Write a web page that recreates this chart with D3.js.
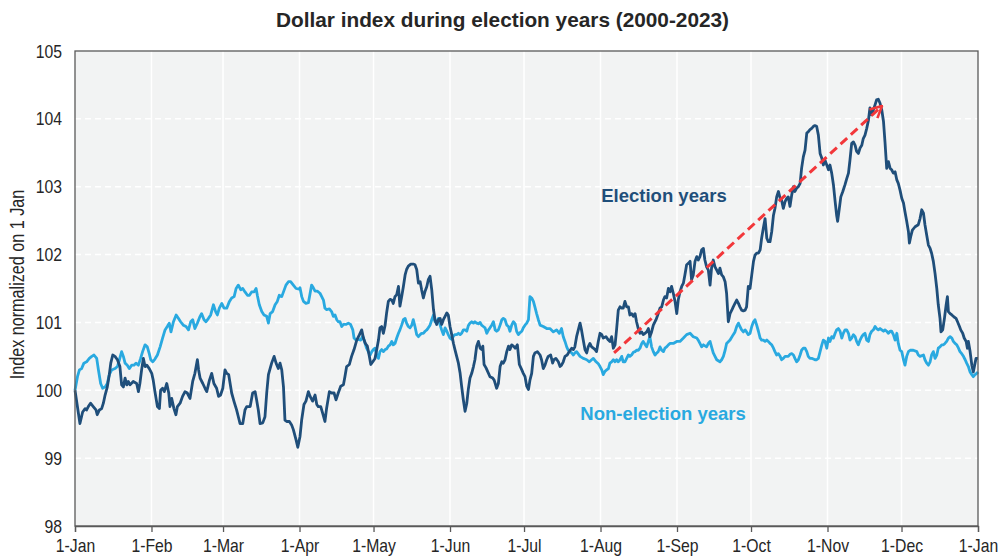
<!DOCTYPE html>
<html>
<head>
<meta charset="utf-8">
<script src="https://cdn.jsdelivr.net/npm/d3@7"></script>
<style>
  html, body { margin: 0; padding: 0; background: #ffffff; }
  svg { display: block; }
  text { font-family: "Liberation Sans", Arial, sans-serif; }
</style>
</head>
<body>
<svg id="chart" width="1002" height="556"></svg>
<script>
// ---- DATA (day of year offset from 1 Jan, index normalized on 1 Jan) ----
const chartTitle = "Dollar index during election years (2000-2023)";
const yAxisTitle = "Index normalized on 1 Jan";
const seriesNames = ["Election years", "Non-election years"];
const yTicks = [98, 99, 100, 101, 102, 103, 104, 105];
const monthLabels = ["1-Jan","1-Feb","1-Mar","1-Apr","1-May","1-Jun","1-Jul","1-Aug","1-Sep","1-Oct","1-Nov","1-Dec","1-Jan"];

const electionYears = [
[0,100],[2.0,99.51],[3.1,99.68],[4.1,99.73],[4.7,99.71],[5.4,99.76],[6.3,99.81],[7.4,99.76],[8.5,99.71],[9.0,99.64],[9.9,99.71],[10.8,99.73],[11.5,99.81],[12.2,99.93],[13.1,100.05],[13.9,100.23],[14.5,100.40],[15.3,100.52],[16.2,100.50],[17.2,100.45],[18.2,100.35],[18.9,100.08],[19.6,100.05],[20.3,100.18],[21.0,100.08],[21.6,100.13],[22.3,100.08],[23.6,100.13],[25.0,100.10],[25.7,99.98],[26.3,100.10],[27.0,100.30],[27.7,100.47],[28.4,100.35],[29.1,100.37],[30.1,100.32],[31.1,100.25],[31.7,100.15],[32.4,99.98],[33.4,99.76],[34.2,99.73],[34.7,100.0],[35.5,100.03],[36.2,99.98],[37.2,100.10],[38.0,99.96],[38.5,99.76],[39.2,99.88],[40.1,99.73],[40.9,99.64],[41.5,99.76],[42.6,99.81],[43.6,99.91],[44.6,99.98],[45.5,99.96],[46.6,99.88],[47.7,100.13],[48.6,100.25],[49.6,100.45],[50.1,100.30],[50.7,100.18],[51.8,100.10],[52.7,100.03],[53.4,99.98],[54.5,100.15],[55.4,100.25],[56.3,100.10],[57.4,100.03],[58.2,99.91],[59.0,99.93],[59.9,100.03],[60.8,100.30],[61.5,100.25],[62.3,100.23],[63.5,99.96],[64.5,99.83],[65.5,99.71],[66.2,99.61],[66.9,99.51],[68.0,99.51],[68.9,99.71],[69.6,99.76],[71.0,99.76],[72.0,99.96],[73.0,99.98],[73.6,99.86],[74.3,99.71],[75.0,99.51],[76.1,99.52],[77.0,99.61],[77.7,99.96],[78.4,100.23],[79.7,100.40],[80.7,100.50],[81.5,100.40],[82.4,100.32],[83.1,100.40],[83.8,100.30],[84.5,100.05],[85.1,99.56],[85.8,99.54],[86.9,99.54],[87.8,99.49],[88.5,99.42],[89.6,99.27],[90.3,99.16],
[91.2,99.32],[91.9,99.57],[92.8,99.79],[93.6,99.84],[94.6,99.98],[95.3,99.91],[96.3,99.84],[97.3,99.93],[98.0,99.79],[98.6,99.76],[99.6,99.76],[100.4,99.66],[101.3,99.54],[102.0,99.74],[103.1,99.98],[104.0,99.96],[105.0,99.96],[105.8,99.86],[106.7,99.96],[107.7,100.06],[108.8,100.08],[109.4,100.20],[110.1,100.35],[111.2,100.38],[112.1,100.50],[113.1,100.60],[114.2,100.74],[115.3,100.82],[116.2,100.89],[116.9,100.77],[117.7,100.69],[118.5,100.65],[119.3,100.50],[119.9,100.38],[120.7,100.42],[121.6,100.47],[122.3,100.60],[123.0,100.74],[123.6,100.92],[124.3,100.94],[125.0,100.84],[125.7,100.96],[126.3,101.14],[127.0,101.31],[127.7,101.34],[128.4,101.33],[129.0,101.28],[129.7,101.38],[130.4,101.41],[131.1,101.53],[131.7,101.24],[132.4,101.38],[133.1,101.53],[133.8,101.70],[134.4,101.78],[135.1,101.83],[136.1,101.86],[137.1,101.86],[137.8,101.85],[138.5,101.78],[139.2,101.58],[139.9,101.60],[140.5,101.48],[141.2,101.36],[141.9,101.46],[142.6,101.53],[143.2,101.63],[143.9,101.68],[144.6,101.48],[145.3,101.19],[145.9,101.04],[146.6,100.97],[147.3,101.04],[148.0,101.06],[148.6,100.97],[149.3,101.04],[150.0,101.09],[150.7,101.14],[151.3,101.11],[152.0,100.94],[152.7,100.82],[153.4,100.69],[154.0,100.60],[154.7,100.50],[155.4,100.40],[156.1,100.25],[156.7,100.06],[157.4,99.86],[158.1,99.69],[158.8,99.81],[159.4,100.01],[160.1,100.18],[160.8,100.25],[161.5,100.35],[162.1,100.45],[162.8,100.65],[163.5,100.72],[164.2,100.62],[164.8,100.60],[165.3,100.65],[165.8,100.38],[166.6,100.33],[167.6,100.25],[168.2,100.20],[169.3,100.18],[169.9,100.15],[170.9,100.03],[171.6,100.10],[172.3,100.35],[173.0,100.42],[173.6,100.40],[174.3,100.45],[175.0,100.57],[175.7,100.65],[176.3,100.60],[177.0,100.67],[177.7,100.65],[178.4,100.62],[179.3,100.67],[180.1,100.38],[181.1,100.30],[181.7,100.25],[182.4,100.20],[183.1,100.06],[183.8,100.01],
[184.4,100.15],[185.1,100.25],[185.8,100.50],[186.4,100.55],[187.4,100.57],[188.5,100.52],[189.1,100.45],[189.8,100.32],[190.5,100.37],[191.2,100.45],[191.8,100.50],[192.8,100.52],[193.6,100.40],[194.1,100.45],[194.9,100.47],[195.9,100.42],[196.6,100.35],[197.2,100.37],[197.9,100.42],[198.6,100.50],[199.5,100.52],[200.3,100.57],[201.3,100.62],[202.0,100.60],[202.6,100.64],[203.3,100.79],[204.0,100.89],[204.7,100.99],[205.3,100.89],[206.0,100.74],[206.7,100.60],[207.4,100.55],[208.0,100.64],[208.7,100.69],[209.4,100.64],[210.1,100.62],[210.8,100.60],[211.4,100.57],[212.1,100.72],[212.8,100.84],[213.5,100.82],[214.1,100.77],[215.2,100.79],[216.2,100.74],[216.8,100.72],[217.5,100.79],[218.2,100.62],[218.9,100.67],[219.5,100.89],[220.2,101.18],[220.9,101.23],[221.6,101.21],[222.2,101.21],[222.9,101.31],[223.6,101.23],[224.3,101.23],[224.9,101.11],[225.6,101.13],[226.3,101.09],[227.0,101.13],[227.6,101.01],[228.3,100.91],[229.0,100.84],[229.7,100.86],[230.3,100.82],[231.0,100.84],[231.7,100.86],[232.4,100.91],[233.0,100.79],[233.7,100.86],[234.4,100.96],[235.5,101.04],[236.4,101.13],[237.1,101.21],[237.8,101.23],[238.5,101.33],[239.1,101.38],[239.8,101.36],[240.5,101.50],[241.2,101.45],[241.8,101.53],[242.5,101.43],[243.2,101.31],[243.9,101.13],[244.5,101.33],[245.2,101.45],[245.9,101.53],[246.6,101.58],[247.2,101.70],[247.9,101.85],[248.6,101.87],[249.3,101.90],[249.9,101.63],[250.6,101.70],[251.3,101.90],[252.0,101.97],[252.6,101.92],[253.3,101.97],[254.0,102.07],[254.7,102.09],[255.3,101.92],[256.0,101.82],[256.7,101.77],[257.4,101.55],[258.0,101.80],[258.7,101.92],[259.4,101.82],[260.1,101.77],[260.8,101.72],[261.4,101.80],[262.1,101.70],[262.8,101.67],[263.5,101.60],[264.1,101.43],[264.8,101.01],[265.5,101.13],[266.2,101.18],[266.8,101.23],[267.5,101.28],[268.2,101.33],[268.9,101.28],[269.5,101.23],[270.2,101.18],[270.9,101.17],[271.6,101.18],[272.2,101.23],[272.9,101.53],
[273.6,101.50],[274.3,101.70],[275.0,101.90],[275.6,101.99],[276.3,102.02],[277.0,102.02],[277.7,102.07],[278.3,102.24],[279.0,102.39],[279.7,102.53],[280.4,102.24],[281.0,102.19],[281.7,102.19],[282.4,102.34],[283.1,102.58],[283.7,102.68],[284.4,102.85],[285.1,102.93],[285.8,102.83],[286.4,102.80],[287.1,102.68],[287.8,102.78],[288.5,102.83],[289.1,102.85],[289.8,102.71],[290.5,102.88],[291.2,103.00],[291.8,102.93],[292.5,102.98],[293.2,103.00],[293.9,103.05],[294.5,103.27],[295.2,103.44],[295.9,103.54],[296.6,103.79],[297.2,103.81],[297.9,103.84],[298.6,103.86],[299.3,103.89],[299.9,103.90],[300.6,103.89],[301.3,103.76],[302.0,103.49],[302.7,103.42],[303.3,103.32],[304.0,103.39],[304.7,103.32],[305.4,103.25],[306.0,103.32],[306.7,103.20],[307.4,103.03],[308.1,102.78],[308.7,102.58],[309.1,102.49],[309.8,102.68],[310.4,102.85],[311.2,102.93],[312.1,103.03],[312.8,103.12],[313.5,103.20],[314.1,103.39],[314.8,103.64],[315.5,103.66],[316.2,103.61],[316.8,103.52],[317.5,103.49],[318.2,103.57],[318.9,103.61],[319.5,103.71],[320.2,103.76],[320.9,103.86],[321.6,103.98],[322.2,104.16],[322.9,104.06],[323.6,104.13],[324.3,104.21],[324.9,104.28],[325.6,104.29],[326.3,104.23],[327.0,104.13],[327.7,103.96],[328.3,103.66],[329.0,103.27],[329.7,103.37],[330.4,103.27],[331.0,103.25],[331.7,103.20],[332.4,103.22],[333.1,103.10],[333.7,103.05],[334.4,102.95],[335.1,102.83],[335.8,102.76],[336.4,102.63],[337.1,102.49],[337.8,102.34],[338.2,102.17],[338.7,102.26],[339.4,102.36],[340.5,102.41],[341.8,102.44],[342.5,102.53],[343.2,102.66],[343.9,102.61],[344.5,102.44],[345.2,102.29],[345.9,102.14],[346.6,102.09],[347.2,102.02],[347.9,101.90],[348.6,101.72],[349.3,101.50],[349.9,101.26],[350.6,101.06],[351.0,100.86],[351.7,100.89],[352.4,101.06],[353.1,101.26],[353.6,101.38],[354.0,101.16],[354.7,101.13],[355.4,101.11],[356.3,101.08],[357.1,101.06],[357.7,101.01],[358.5,100.94],[359.0,100.89],[359.8,100.84],[360.4,100.77],[361.2,100.72],[361.7,100.62],[362.1,100.72],[362.8,100.57],[363.5,100.37],[364.1,100.27],[364.8,100.40],[365.2,100.47],[366,100.47]
];

const nonElectionYears = [
[0,100],[1.0,100.20],[1.8,100.30],[2.7,100.32],[3.6,100.40],[4.7,100.42],[5.8,100.47],[6.8,100.50],[7.7,100.52],[8.8,100.47],[9.5,100.30],[10.4,100.10],[11.2,100.03],[12.2,100.05],[13.1,100.10],[13.9,100.23],[14.9,100.30],[16.2,100.32],[17.2,100.35],[18.0,100.45],[18.9,100.57],[19.6,100.50],[20.3,100.40],[21.2,100.37],[22.0,100.32],[23.0,100.37],[23.9,100.37],[24.7,100.40],[25.7,100.37],[26.6,100.47],[27.4,100.57],[28.4,100.67],[29.3,100.64],[30.1,100.54],[30.7,100.45],[31.5,100.42],[32.4,100.46],[33.4,100.52],[34.5,100.64],[35.5,100.77],[36.5,100.89],[37.4,100.94],[38.2,100.99],[38.9,100.86],[39.9,101.01],[41.0,101.11],[41.9,101.06],[42.8,101.01],[43.9,100.96],[45.0,100.94],[46.0,100.89],[46.9,101.01],[47.7,101.04],[48.6,100.91],[49.6,100.99],[50.7,101.09],[51.3,101.13],[52.3,101.04],[53.1,101.01],[54.1,101.06],[55.0,101.11],[56.1,101.26],[57.0,101.16],[57.7,101.11],[58.5,101.21],[59.5,101.28],[60.4,101.21],[61.5,101.21],[62.6,101.31],[63.5,101.36],[64.5,101.38],[65.3,101.50],[66.2,101.55],[67.2,101.48],[68.0,101.50],[68.9,101.45],[69.9,101.40],[70.7,101.40],[71.6,101.45],[72.6,101.45],[73.4,101.50],[73.9,101.40],[74.7,101.26],[75.7,101.16],[76.6,101.11],[77.7,101.09],[78.4,100.99],[79.1,101.13],[80.1,101.16],[81.1,101.26],[82.0,101.31],[82.8,101.40],[83.8,101.38],[84.5,101.45],[85.5,101.55],[86.5,101.60],[87.4,101.60],[88.5,101.55],[89.6,101.50],[90.9,101.49],
[91.2,101.51],[91.9,101.38],[92.6,101.31],[93.6,101.28],[94.6,101.29],[95.3,101.43],[95.9,101.55],[96.6,101.51],[97.3,101.46],[98.2,101.46],[99.3,101.43],[100.0,101.38],[100.7,101.33],[101.3,101.21],[102.0,101.19],[103.1,101.20],[104.0,101.16],[104.7,101.09],[105.4,101.11],[106.1,101.04],[106.7,101.01],[107.4,101.01],[108.1,100.94],[108.8,100.97],[109.8,100.97],[110.8,100.99],[111.7,100.97],[112.6,100.89],[113.1,100.77],[113.9,100.74],[114.8,100.75],[115.8,100.74],[116.6,100.80],[117.6,100.69],[118.2,100.62],[118.9,100.57],[119.6,100.52],[120.3,100.57],[120.9,100.60],[121.6,100.62],[122.3,100.52],[123.0,100.47],[123.6,100.57],[124.3,100.60],[125.0,100.57],[125.7,100.60],[126.3,100.61],[127.0,100.65],[127.7,100.67],[128.4,100.72],[129.0,100.67],[129.7,100.69],[130.4,100.77],[131.1,100.84],[131.7,100.89],[132.4,100.96],[133.1,101.04],[133.8,101.06],[134.4,100.99],[135.1,100.94],[135.8,100.92],[136.5,100.96],[137.1,101.04],[137.8,100.94],[138.5,100.82],[139.2,100.79],[139.9,100.82],[140.5,100.84],[141.2,100.84],[141.9,100.87],[142.6,100.89],[143.2,100.92],[143.9,100.96],[144.6,101.04],[145.3,101.11],[145.9,101.01],[146.6,101.01],[147.3,101.06],[148.0,100.96],[148.6,100.89],[149.3,100.82],[150.0,100.92],[150.7,100.87],[151.3,100.82],[152.0,100.77],[152.7,100.75],[153.4,100.80],[154.0,100.82],[154.7,100.82],[155.4,100.84],[156.1,100.82],[156.7,100.84],[157.4,100.89],[158.1,100.89],[158.8,100.87],[159.4,100.95],[160.1,100.99],[160.8,101.01],[161.5,100.99],[162.1,101.01],[162.8,100.99],[163.5,100.98],[164.2,101.00],[164.8,100.96],[165.5,100.94],[166.2,100.92],[166.9,100.84],[167.6,100.89],[168.2,100.92],[168.9,100.96],[169.6,101.01],[170.3,100.89],[170.9,100.87],[171.6,100.89],[172.3,100.96],[173.0,101.04],[173.6,101.06],[174.3,101.04],[175.0,100.96],[175.7,100.94],[176.3,100.87],[177.0,100.96],[177.7,101.01],[178.4,100.98],[179.0,100.87],[179.7,100.82],[180.4,100.85],[181.1,100.87],[181.7,100.92],[182.4,100.96],[183.1,100.99],[183.8,101.04],
[184.4,101.38],[185.1,101.36],[185.8,101.31],[186.4,101.23],[187.1,101.13],[187.8,101.04],[188.5,100.96],[189.8,100.94],[191.2,100.91],[192.5,100.91],[193.9,100.86],[195.2,100.89],[196.3,100.84],[197.2,100.91],[197.9,100.79],[198.6,100.72],[199.3,100.64],[199.9,100.59],[200.6,100.57],[201.3,100.55],[202.0,100.52],[202.6,100.55],[203.3,100.57],[204.7,100.50],[206.0,100.47],[206.7,100.46],[207.4,100.45],[208.5,100.42],[209.4,100.45],[210.1,100.47],[211.2,100.42],[212.1,100.39],[212.8,100.35],[213.5,100.30],[214.1,100.23],[214.8,100.28],[215.5,100.30],[216.2,100.32],[216.8,100.40],[217.5,100.42],[218.2,100.45],[218.9,100.42],[219.5,100.45],[220.2,100.42],[220.9,100.45],[221.6,100.50],[222.2,100.42],[222.9,100.42],[223.6,100.47],[224.3,100.52],[224.9,100.50],[225.6,100.52],[226.3,100.56],[227.0,100.57],[227.6,100.59],[228.3,100.59],[229.0,100.62],[229.7,100.69],[230.3,100.72],[231.0,100.68],[231.7,100.64],[232.4,100.72],[233.0,100.79],[233.7,100.64],[234.4,100.57],[235.1,100.52],[235.8,100.55],[236.4,100.57],[237.1,100.64],[237.8,100.59],[238.5,100.57],[239.1,100.62],[239.8,100.64],[240.5,100.67],[241.2,100.69],[242.5,100.69],[243.9,100.72],[245.2,100.72],[246.6,100.77],[247.9,100.82],[249.3,100.84],[250.6,100.79],[252.0,100.77],[252.6,100.74],[253.3,100.69],[254.0,100.64],[254.7,100.67],[256.0,100.64],[256.7,100.69],[257.4,100.72],[258.0,100.64],[258.7,100.55],[259.4,100.50],[260.1,100.45],[261.4,100.42],[262.1,100.45],[262.8,100.50],[263.5,100.59],[264.1,100.69],[265.5,100.74],[266.8,100.82],[267.5,100.86],[268.2,100.94],[268.9,100.99],[269.5,100.94],[270.2,100.89],[270.9,100.86],[271.6,100.89],[272.2,100.86],[272.9,100.82],
[273.6,100.84],[274.3,100.94],[275.0,101.01],[275.6,101.04],[276.3,100.96],[277.0,100.87],[277.7,100.77],[278.3,100.74],[279.0,100.74],[279.7,100.72],[280.4,100.74],[281.0,100.72],[281.7,100.69],[282.4,100.67],[283.1,100.62],[283.7,100.57],[284.4,100.52],[285.1,100.54],[285.8,100.50],[286.4,100.45],[287.1,100.47],[287.8,100.50],[288.5,100.50],[289.1,100.50],[289.8,100.53],[290.5,100.54],[291.2,100.52],[291.8,100.47],[292.5,100.42],[293.2,100.45],[293.9,100.52],[294.5,100.59],[295.2,100.62],[295.9,100.62],[296.6,100.57],[297.2,100.50],[297.9,100.47],[298.6,100.47],[299.3,100.46],[299.9,100.45],[300.6,100.45],[301.3,100.47],[302.0,100.57],[302.7,100.67],[303.3,100.74],[304.0,100.72],[304.7,100.62],[305.4,100.77],[306.0,100.72],[306.7,100.79],[307.4,100.77],[308.1,100.84],[308.7,100.89],[309.4,100.91],[310.1,100.87],[310.8,100.77],[311.4,100.84],[312.1,100.89],[312.8,100.89],[313.5,100.84],[314.1,100.74],[314.8,100.77],[315.5,100.82],[316.2,100.79],[316.8,100.72],[317.5,100.67],[318.2,100.74],[318.9,100.79],[319.5,100.82],[320.2,100.84],[320.9,100.74],[321.6,100.72],[322.2,100.82],[322.9,100.87],[323.6,100.89],[324.3,100.94],[324.9,100.91],[325.6,100.89],[326.3,100.91],[327.0,100.89],[327.7,100.87],[328.3,100.89],[329.0,100.87],[329.7,100.84],[330.4,100.87],[331.0,100.87],[331.7,100.82],[332.4,100.74],[333.1,100.84],[333.7,100.69],[334.4,100.59],[335.1,100.57],[335.8,100.45],[336.4,100.37],[337.1,100.50],[337.8,100.57],[338.5,100.59],[339.8,100.59],[341.2,100.57],[341.8,100.52],[342.5,100.50],[343.9,100.52],[344.5,100.45],[345.2,100.40],[345.9,100.37],[346.6,100.42],[347.2,100.52],[347.9,100.57],[348.6,100.47],[349.3,100.52],[349.9,100.62],[350.6,100.64],[351.3,100.67],[352.0,100.67],[352.6,100.69],[353.3,100.72],[354.0,100.77],[354.7,100.79],[355.4,100.77],[356.0,100.72],[356.7,100.69],[357.4,100.67],[358.1,100.62],[358.7,100.57],[359.4,100.54],[360.1,100.50],[360.8,100.45],[361.4,100.40],[362.1,100.35],[362.8,100.27],[363.5,100.23],[364.1,100.20],[364.8,100.23],[365.5,100.25],[366,100.27]
];

// trend annotation (red dashed arrow): [day, index]
const trendArrow = [[218.5, 100.55], [327.1, 104.19]];
// label anchors (text start, baseline): [day, index]
const labelAnchors = [[213.3, 102.775], [204.8, 99.56]];

// ---- CHART ----
const W = 1002, H = 556;
const m = { left: 75, right: 24, top: 51, bottom: 30 };
const svg = d3.select("#chart");
const colors = { election: "#1f4e7a", nonElection: "#29a9e0", arrow: "#f2373a" };
const condense = 0.83;   // emulates the narrow axis font

const t0 = Date.UTC(2024, 0, 1), t1 = Date.UTC(2025, 0, 1);
const toDate = d => new Date(t0 + d * 864e5);

const x = d3.scaleUtc().domain([new Date(t0), new Date(t1)]).range([m.left, W - m.right]);
const y = d3.scaleLinear().domain([98, 105]).range([H - m.bottom, m.top]);

// plot background
svg.append("rect")
  .attr("x", x.range()[0]).attr("y", y(105))
  .attr("width", x.range()[1] - x.range()[0]).attr("height", y(98) - y(105))
  .attr("fill", "#f2f3f3");

const monthTicks = d3.utcMonth.range(new Date(t0), new Date(t1 + 1));

// vertical grid (solid white)
svg.append("g").selectAll("line").data(monthTicks.slice(1, -1)).join("line")
  .attr("x1", d => x(d)).attr("x2", d => x(d))
  .attr("y1", y(105)).attr("y2", y(98))
  .attr("stroke", "#ffffff").attr("stroke-width", 1.5);

// horizontal grid (dashed white)
svg.append("g").selectAll("line").data(yTicks.slice(1, -1)).join("line")
  .attr("x1", x.range()[0]).attr("x2", x.range()[1])
  .attr("y1", d => y(d)).attr("y2", d => y(d))
  .attr("stroke", "#ffffff").attr("stroke-width", 1.5)
  .attr("stroke-dasharray", "6,4");

// lines
const line = d3.line().x(d => x(toDate(d[0]))).y(d => y(d[1])).curve(d3.curveLinear);

svg.append("path").datum(nonElectionYears)
  .attr("d", line).attr("fill", "none")
  .attr("stroke", colors.nonElection).attr("stroke-width", 2.8)
  .attr("stroke-linejoin", "round");

svg.append("path").datum(electionYears)
  .attr("d", line).attr("fill", "none")
  .attr("stroke", colors.election).attr("stroke-width", 2.8)
  .attr("stroke-linejoin", "round");

// arrow
const defs = svg.append("defs");
defs.append("marker")
  .attr("id", "openArrow").attr("viewBox", "0 0 12 12")
  .attr("refX", 11).attr("refY", 6)
  .attr("markerWidth", 14).attr("markerHeight", 14)
  .attr("markerUnits", "userSpaceOnUse")
  .attr("orient", "auto")
  .append("path").attr("d", "M1,1 L11,6 L1,11")
  .attr("fill", "none").attr("stroke", colors.arrow).attr("stroke-width", 2.2)
  .attr("stroke-dasharray", "none").attr("stroke-linejoin", "miter");

svg.append("line")
  .attr("x1", x(toDate(trendArrow[0][0]))).attr("y1", y(trendArrow[0][1]))
  .attr("x2", x(toDate(trendArrow[1][0]))).attr("y2", y(trendArrow[1][1]))
  .attr("stroke", colors.arrow).attr("stroke-width", 3)
  .attr("stroke-dasharray", "9,5")
  .attr("marker-end", "url(#openArrow)");

// frame
svg.append("rect")
  .attr("x", x.range()[0]).attr("y", y(105))
  .attr("width", x.range()[1] - x.range()[0]).attr("height", y(98) - y(105))
  .attr("fill", "none").attr("stroke", "#595959").attr("stroke-width", 1.3);

// x axis
const xAxis = d3.axisBottom(x).tickValues(monthTicks)
  .tickFormat((d, i) => monthLabels[i]).tickSize(6).tickPadding(7);
const gx = svg.append("g").attr("transform", `translate(0,${y(98)})`).call(xAxis);
gx.select(".domain").attr("stroke", "#595959").attr("stroke-width", 1.3);
gx.selectAll(".tick line").attr("stroke", "#595959").attr("stroke-width", 1.3);
gx.selectAll("text")
  .style("font-family", "'Liberation Sans', Arial, sans-serif")
  .style("font-size", "19px").attr("fill", "#262626")
  .attr("transform", `scale(${condense},1)`);

// y axis
const yAxis = d3.axisLeft(y).tickValues(yTicks).tickFormat(d3.format("d")).tickSize(0).tickPadding(0);
const gy = svg.append("g").attr("transform", `translate(${x.range()[0]},0)`).call(yAxis);
gy.select(".domain").remove();
gy.selectAll("text")
  .style("font-family", "'Liberation Sans', Arial, sans-serif")
  .style("font-size", "19px").attr("fill", "#262626")
  .attr("x", -13 / condense)
  .attr("transform", `scale(${condense},1)`);

// axis title
svg.append("text")
  .attr("transform", `translate(24,${(y(98) + y(105)) / 2 - 4}) rotate(-90) scale(${condense},1)`)
  .attr("text-anchor", "middle").style("font-size", "19.5px").attr("fill", "#262626")
  .text(yAxisTitle);

// chart title
svg.append("text")
  .attr("x", (x.range()[0] + x.range()[1]) / 2 - 24).attr("y", 27).attr("text-anchor", "middle")
  .style("font-weight", "bold").style("font-size", "20.8px").attr("fill", "#262626")
  .text(chartTitle);

// series labels
svg.append("text")
  .attr("x", x(toDate(labelAnchors[0][0]))).attr("y", y(labelAnchors[0][1]))
  .style("font-weight", "bold").style("font-size", "18.5px").attr("fill", colors.election)
  .text(seriesNames[0]);
svg.append("text")
  .attr("x", x(toDate(labelAnchors[1][0]))).attr("y", y(labelAnchors[1][1]))
  .style("font-weight", "bold").style("font-size", "18.5px").attr("fill", colors.nonElection)
  .text(seriesNames[1]);
</script>
</body>
</html>
